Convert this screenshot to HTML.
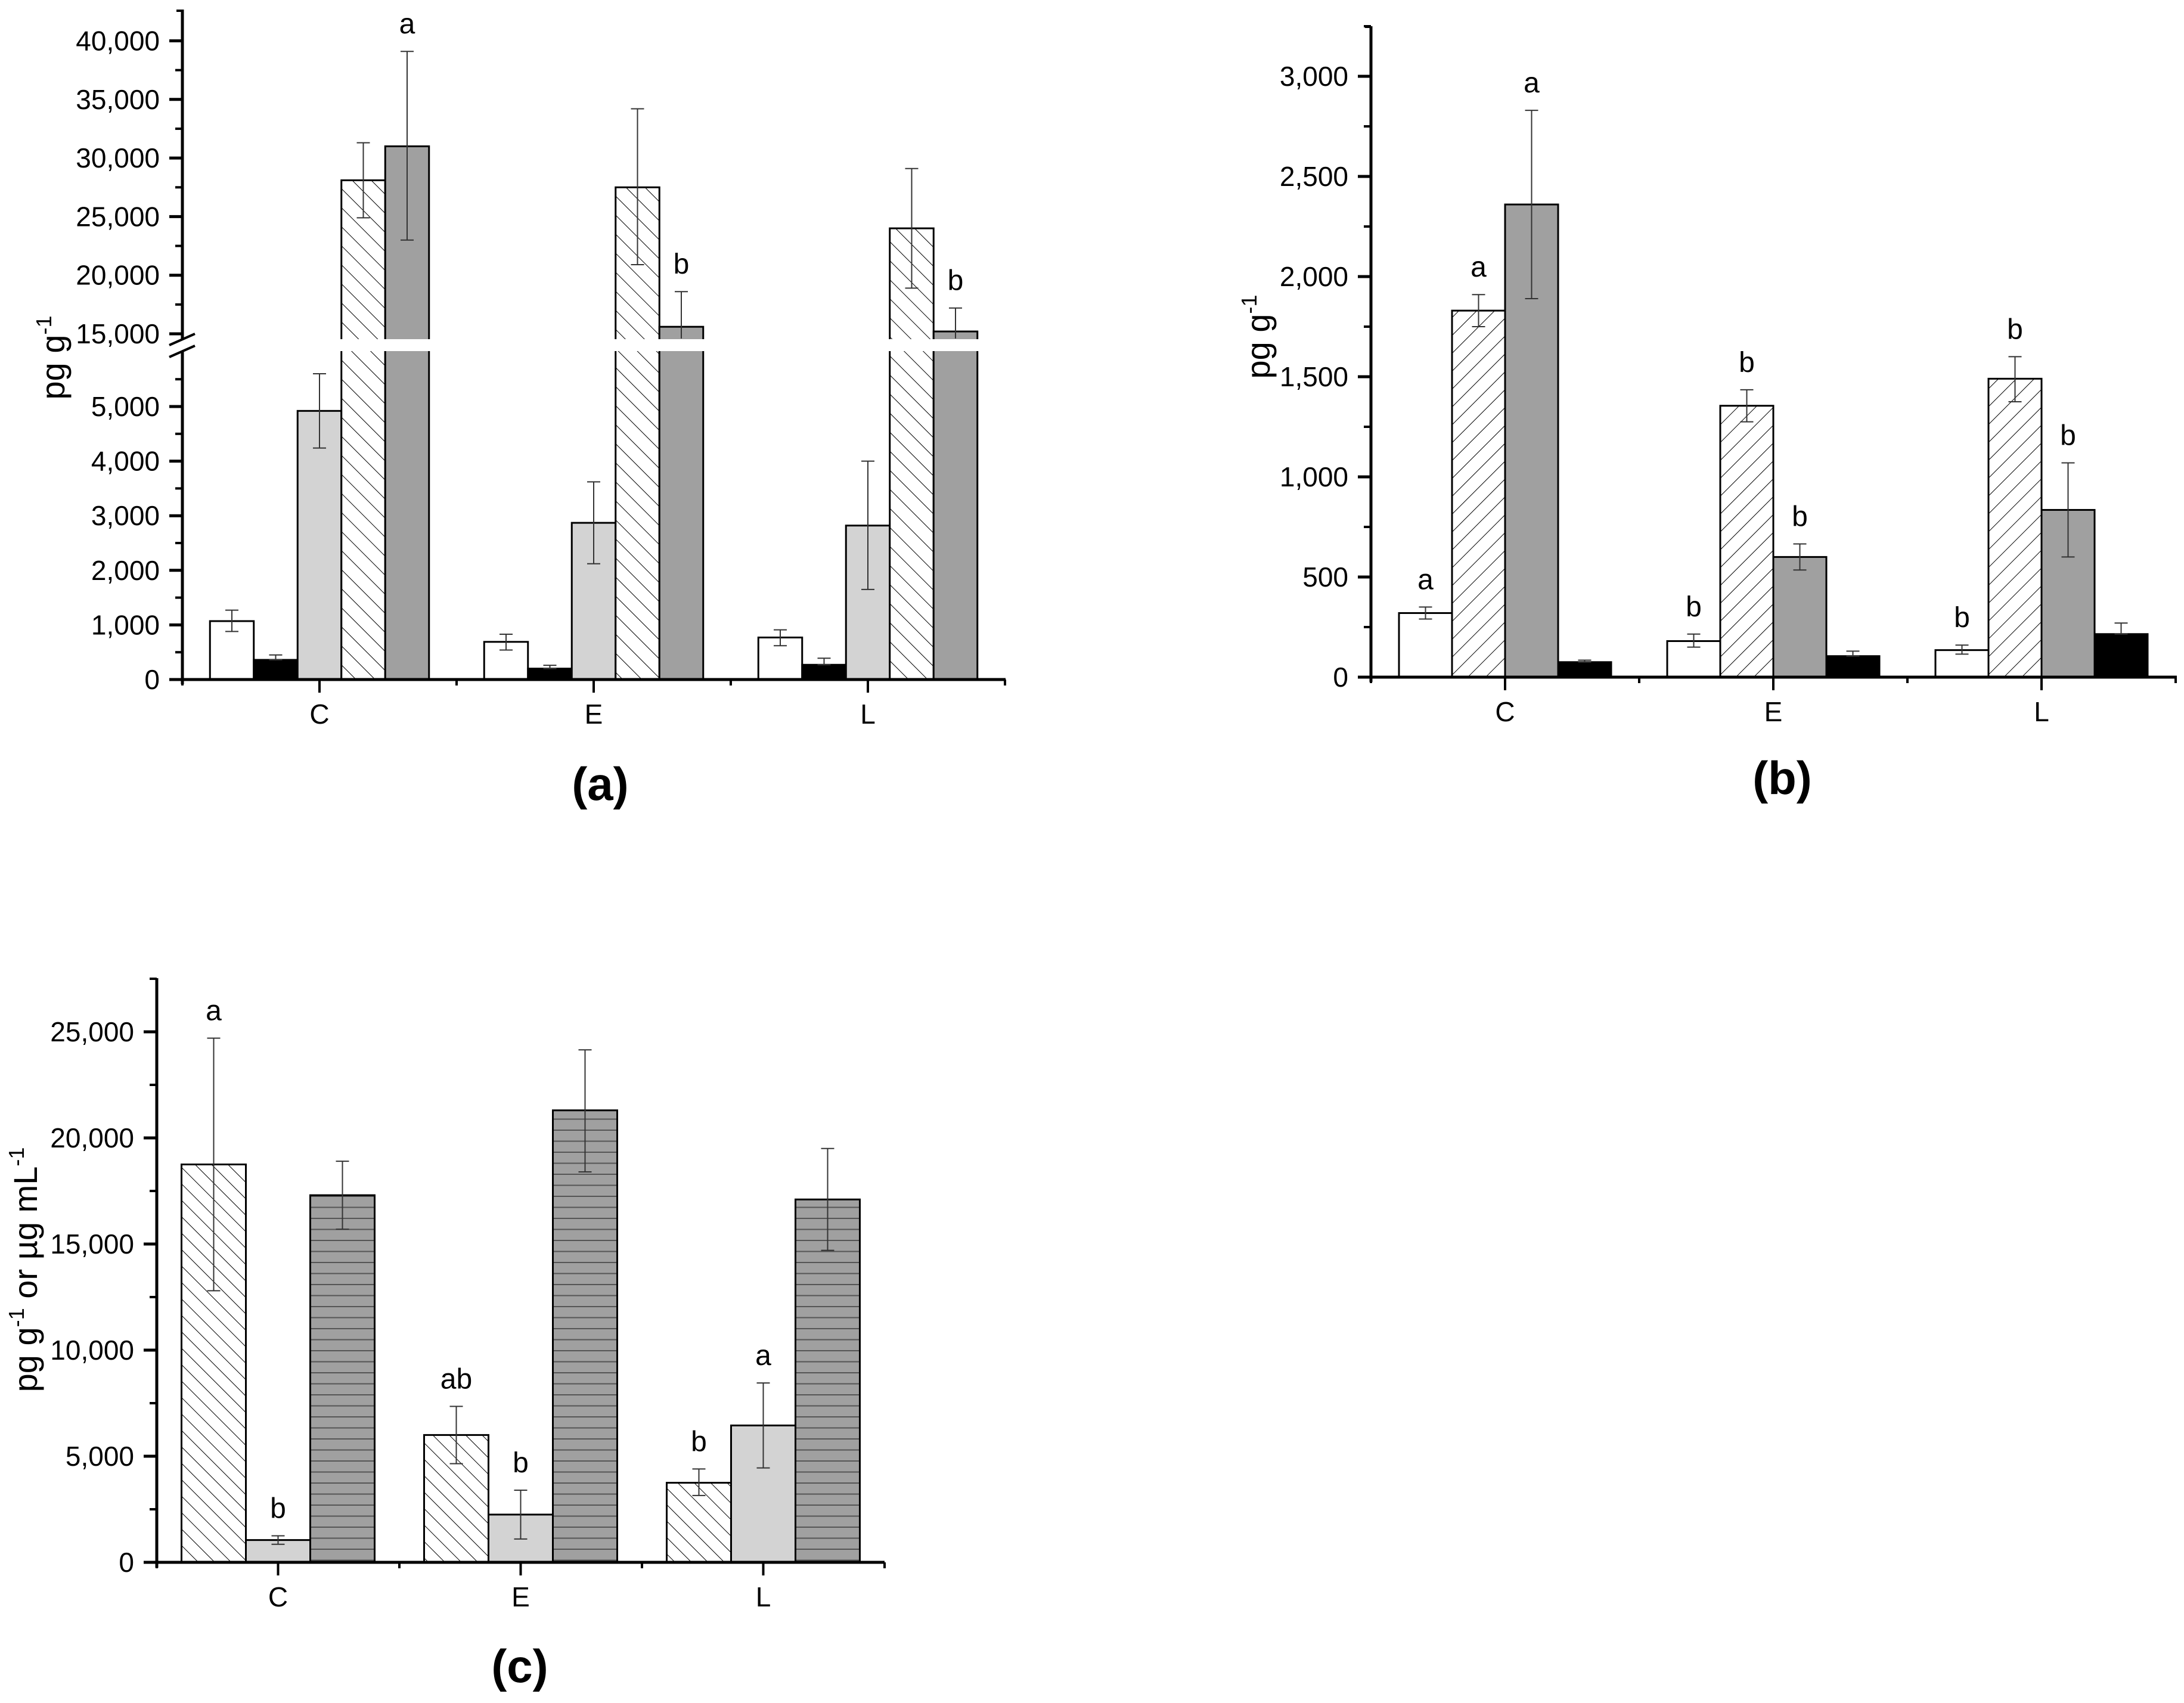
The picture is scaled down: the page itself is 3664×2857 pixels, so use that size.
<!DOCTYPE html>
<html><head><meta charset="utf-8">
<style>
html,body{margin:0;padding:0;background:#fff;}
svg{display:block;font-family:"Liberation Sans",Arial,sans-serif;}
</style></head>
<body>
<svg id="fig" width="3664" height="2857" viewBox="0 0 3664 2857" xmlns="http://www.w3.org/2000/svg">
<defs>
<pattern id="hatchBack" patternUnits="userSpaceOnUse" width="22.6" height="22.6" patternTransform="rotate(-45)">
<rect width="22.6" height="22.6" fill="#fff"/><line x1="0" y1="0" x2="0" y2="22.6" stroke="#000" stroke-width="2"/></pattern>
<pattern id="hatchFwd" patternUnits="userSpaceOnUse" width="21.2" height="21.2" patternTransform="rotate(45)">
<rect width="21.2" height="21.2" fill="#fff"/><line x1="0" y1="0" x2="0" y2="21.2" stroke="#000" stroke-width="2"/></pattern>
<pattern id="hatchBackC" patternUnits="userSpaceOnUse" width="19.5" height="19.5" patternTransform="rotate(-45)">
<rect width="19.5" height="19.5" fill="#fff"/><line x1="0" y1="0" x2="0" y2="19.5" stroke="#000" stroke-width="2"/></pattern>
<pattern id="hlines" patternUnits="userSpaceOnUse" width="20" height="18.5">
<rect width="20" height="18.5" fill="#a0a0a0"/><line x1="0" y1="9" x2="20" y2="9" stroke="#555" stroke-width="2"/></pattern>
</defs>
<g id="pa"></g>
<g id="pb"></g>
<g id="pc"></g>
</svg>
<script>
// ---------- data ----------
const categories = ["C", "E", "L"];
// panel (a): series white, black, lightgray, hatch, darkgray
const aWhite = [1070, 690, 770];
const aWhiteLo = [880, 540, 620];
const aWhiteHi = [1270, 830, 910];
const aBlack = [360, 200, 270];
const aBlackLo = [360, 200, 270];
const aBlackHi = [450, 260, 390];
const aLight = [4920, 2870, 2820];
const aLightLo = [4240, 2120, 1650];
const aLightHi = [5600, 3620, 4000];
const aHatch = [28100, 27500, 24000];
const aHatchLo = [24900, 20900, 18900];
const aHatchHi = [31300, 34200, 29100];
const aDark = [31000, 15600, 15200];
const aDarkLo = [23000, 12600, 13200];
const aDarkHi = [39100, 18600, 17200];
const aDarkLetters = ["a", "b", "b"];
const aLowTicks = [0, 1000, 2000, 3000, 4000, 5000];
const aHighTicks = [15000, 20000, 25000, 30000, 35000, 40000];
// panel (b): white, forward-hatch, darkgray, black
const bWhite = [320, 180, 135];
const bWhiteLo = [290, 150, 115];
const bWhiteHi = [350, 215, 160];
const bHatch = [1830, 1355, 1490];
const bHatchLo = [1750, 1275, 1375];
const bHatchHi = [1910, 1435, 1600];
const bDark = [2360, 600, 835];
const bDarkLo = [1890, 535, 600];
const bDarkHi = [2830, 665, 1070];
const bBlack = [75, 105, 215];
const bBlackLo = [75, 105, 215];
const bBlackHi = [85, 130, 270];
const bWhiteLetters = ["a", "b", "b"];
const bHatchLetters = ["a", "b", "b"];
const bDarkLetters = ["a", "b", "b"];
const bTicks = [0, 500, 1000, 1500, 2000, 2500, 3000];
// panel (c): back-hatch, lightgray, hlines
const cHatch = [18750, 6000, 3750];
const cHatchLo = [12800, 4650, 3150];
const cHatchHi = [24700, 7350, 4400];
const cLight = [1050, 2250, 6450];
const cLightLo = [850, 1100, 4450];
const cLightHi = [1250, 3400, 8450];
const cLines = [17300, 21300, 17100];
const cLinesLo = [15700, 18400, 14700];
const cLinesHi = [18900, 24150, 19500];
const cHatchLetters = ["a", "ab", "b"];
const cLightLetters = ["b", "b", "a"];
const cTicks = [0, 5000, 10000, 15000, 20000, 25000];

// ---------- helpers ----------
const NS = "http://www.w3.org/2000/svg";
function el(parent, tag, attrs, text) {
  const e = document.createElementNS(NS, tag);
  for (const k in attrs) e.setAttribute(k, attrs[k]);
  if (text !== undefined) e.textContent = text;
  parent.appendChild(e);
  return e;
}
function fmt(v) { return v.toLocaleString("en-US"); }

// ---------- scales ----------
function yA(v) { return v <= 6000 ? 1140 - v * 0.0916 : 560 - (v - 15000) * 0.01966; }
function yB(v) { return 1136 - v * 0.336; }
function yC(v) { return 2621 - v * 0.0356; }

function drawBar(g, x, w, v, fill, y, name) {
  const r = el(g, "rect", {x: x, y: y(v), width: w, height: y(0) - y(v), fill: fill, stroke: "#000", "stroke-width": 3});
  
  
}
function drawErr(g, cx, lo, hi, y, name, clipLo) {
  const yl = y(clipLo !== undefined ? Math.max(lo, clipLo) : lo), yh = y(hi);
  const eg = el(g, "g", {stroke: "#333", "stroke-width": 2});
  
  
  el(eg, "line", {x1: cx, y1: yl, x2: cx, y2: yh});
  el(eg, "line", {x1: cx - 11, y1: yh, x2: cx + 11, y2: yh});
  if (clipLo === undefined || lo >= clipLo) el(eg, "line", {x1: cx - 11, y1: yl, x2: cx + 11, y2: yl});
}
function drawLetter(g, cx, yTop, txt, name) {
  const t = el(g, "text", {x: cx, y: yTop - 30, "font-size": 48, "text-anchor": "middle"}, txt);
  
  
}
function yTitle(g, x, y, parts, name) {
  const t = el(g, "text", {transform: `translate(${x},${y}) rotate(-90)`, "font-size": 56, "text-anchor": "middle"});
  
  
  parts.forEach(p => {
    const s = el(t, "tspan", p.sup ? {"font-size": 36, dy: -22} : (p.down ? {"font-size": 56, dy: 22} : {}), p.t);
  });
}
function panelTitle(g, x, y, txt, name) {
  const t = el(g, "text", {x: x, y: y, "font-size": 78, "font-weight": "bold", "text-anchor": "middle"}, txt);
  
  
}
function catLabels(g, xs, y, pfx) {
  categories.forEach((c, i) => {
    const t = el(g, "text", {x: xs[i], y: y, "font-size": 46, "text-anchor": "middle"}, c);
    
    
  });
}
function yTicks(g, ax, ticks, y, minorStep, vmin, vmax, pfx) {
  ticks.forEach(v => {
    el(g, "line", {x1: ax - 22, y1: y(v), x2: ax, y2: y(v), stroke: "#000", "stroke-width": 5});
    const t = el(g, "text", {x: ax - 38, y: y(v) + 16, "font-size": 46, "text-anchor": "end"}, fmt(v));
    
    
  });
  for (let v = vmin + minorStep; v <= vmax; v += 2 * minorStep) {
    el(g, "line", {x1: ax - 12, y1: y(v), x2: ax, y2: y(v), stroke: "#000", "stroke-width": 4});
  }
}

// ---------- panel (a) ----------
(function () {
  const g = document.getElementById("pa");
  const ax = 306, xEnd = 1687, span = 460, bw = 73.5;
  const cx = categories.map((c, i) => ax + span * (i + 0.5));
  const series = [
    [aWhite, aWhiteLo, aWhiteHi, "#fff", "white"],
    [aBlack, aBlackLo, aBlackHi, "#000", "black"],
    [aLight, aLightLo, aLightHi, "#d3d3d3", "light"],
    [aHatch, aHatchLo, aHatchHi, "url(#hatchBack)", "hatch"],
    [aDark, aDarkLo, aDarkHi, "#a0a0a0", "dark"]];
  const bars = el(g, "g", {});
  
  
  categories.forEach((c, i) => {
    series.forEach((s, j) => {
      const x = cx[i] - 2.5 * bw + j * bw;
      drawBar(bars, x, bw, s[0][i], s[3], yA, 'bar-a-' + s[4] + '-' + c.toLowerCase());
    });
  });
  // break gap
  el(g, "rect", {x: 290, y: 569, width: 1410, height: 20, fill: "#fff"});
  categories.forEach((c, i) => {
    series.forEach((s, j) => {
      const x = cx[i] - 2.5 * bw + j * bw + bw / 2;
      const big = s[0][i] > 6000;
      drawErr(bars, x, s[1][i], s[2][i], yA, 'error-a-' + s[4] + '-' + c.toLowerCase(), big ? 14600 : undefined);
    });
    drawLetter(g, cx[i] - 2.5 * bw + 4.5 * bw, yA(aDarkHi[i]), aDarkLetters[i], 'letter-a-dark-' + c.toLowerCase());
  });
  // axes
  const axg = el(g, "g", {});
  
  
  el(axg, "line", {x1: ax, y1: 16, x2: ax, y2: 569, stroke: "#000", "stroke-width": 5});
  el(axg, "line", {x1: ax, y1: 590, x2: ax, y2: 1148, stroke: "#000", "stroke-width": 5});
  el(axg, "line", {x1: ax - 10, y1: 18, x2: ax, y2: 18, stroke: "#000", "stroke-width": 4});
  el(axg, "line", {x1: 284, y1: 579, x2: 327, y2: 560, stroke: "#000", "stroke-width": 4});
  el(axg, "line", {x1: 284, y1: 599, x2: 327, y2: 580, stroke: "#000", "stroke-width": 4});
  el(axg, "line", {x1: ax - 22, y1: 1140, x2: xEnd, y2: 1140, stroke: "#000", "stroke-width": 5});
  yTicks(axg, ax, aLowTicks, yA, 500, 0, 5500, 'a');
  yTicks(axg, ax, aHighTicks, yA, 2500, 15000, 40000, 'a');
  for (let i = 0; i <= 3; i++) el(axg, "line", {x1: ax + span * i, y1: 1140, x2: ax + span * i, y2: 1150, stroke: "#000", "stroke-width": 4});
  cx.forEach(x => el(axg, "line", {x1: x, y1: 1140, x2: x, y2: 1162, stroke: "#000", "stroke-width": 4}));
  catLabels(g, cx, 1214, 'a');
  yTitle(g, 108, 600, [{t: "pg g"}, {t: "-1", sup: true}], 'y-axis-title-a');
  panelTitle(g, 1007, 1342, "(a)", 'panel-a-label');
})();

// ---------- panel (b) ----------
(function () {
  const g = document.getElementById("pb");
  const ax = 2300, xEnd = 3652, span = 450, bw = 89;
  const cx = categories.map((c, i) => ax + span * (i + 0.5));
  const series = [
    [bWhite, bWhiteLo, bWhiteHi, "#fff", "white", bWhiteLetters],
    [bHatch, bHatchLo, bHatchHi, "url(#hatchFwd)", "hatch", bHatchLetters],
    [bDark, bDarkLo, bDarkHi, "#a0a0a0", "dark", bDarkLetters],
    [bBlack, bBlackLo, bBlackHi, "#000", "black", null]];
  const bars = el(g, "g", {});
  
  
  categories.forEach((c, i) => {
    series.forEach((s, j) => {
      const x = cx[i] - 2 * bw + j * bw;
      drawBar(bars, x, bw, s[0][i], s[3], yB, 'bar-b-' + s[4] + '-' + c.toLowerCase());
      drawErr(bars, x + bw / 2, s[1][i], s[2][i], yB, 'error-b-' + s[4] + '-' + c.toLowerCase());
      if (s[5]) drawLetter(g, x + bw / 2, yB(s[2][i]), s[5][i], 'letter-b-' + s[4] + '-' + c.toLowerCase());
    });
  });
  const axg = el(g, "g", {});
  
  
  el(axg, "line", {x1: ax, y1: 44, x2: ax, y2: 1144, stroke: "#000", "stroke-width": 5});
  el(axg, "line", {x1: ax - 10, y1: 45, x2: ax, y2: 45, stroke: "#000", "stroke-width": 4});
  el(axg, "line", {x1: ax - 22, y1: 1136, x2: xEnd, y2: 1136, stroke: "#000", "stroke-width": 5});
  yTicks(axg, ax, bTicks, yB, 250, 0, 3250, 'b');
  for (let i = 0; i <= 3; i++) el(axg, "line", {x1: ax + span * i, y1: 1136, x2: ax + span * i, y2: 1146, stroke: "#000", "stroke-width": 4});
  cx.forEach(x => el(axg, "line", {x1: x, y1: 1136, x2: x, y2: 1158, stroke: "#000", "stroke-width": 4}));
  catLabels(g, cx, 1210, 'b');
  yTitle(g, 2130, 565, [{t: "pg g"}, {t: "-1", sup: true}], 'y-axis-title-b');
  panelTitle(g, 2990, 1332, "(b)", 'panel-b-label');
})();

// ---------- panel (c) ----------
(function () {
  const g = document.getElementById("pc");
  const ax = 263, xEnd = 1484, span = 407, bw = 108;
  const cx = categories.map((c, i) => ax + span * (i + 0.5));
  const series = [
    [cHatch, cHatchLo, cHatchHi, "url(#hatchBackC)", "hatch", cHatchLetters],
    [cLight, cLightLo, cLightHi, "#d3d3d3", "light", cLightLetters],
    [cLines, cLinesLo, cLinesHi, "url(#hlines)", "lined", null]];
  const bars = el(g, "g", {});
  
  
  categories.forEach((c, i) => {
    series.forEach((s, j) => {
      const x = cx[i] - 1.5 * bw + j * bw;
      drawBar(bars, x, bw, s[0][i], s[3], yC, 'bar-c-' + s[4] + '-' + c.toLowerCase());
      drawErr(bars, x + bw / 2, s[1][i], s[2][i], yC, 'error-c-' + s[4] + '-' + c.toLowerCase());
      if (s[5]) drawLetter(g, x + bw / 2, yC(s[2][i]), s[5][i], 'letter-c-' + s[4] + '-' + c.toLowerCase());
    });
  });
  const axg = el(g, "g", {});
  
  
  el(axg, "line", {x1: ax, y1: 1641, x2: ax, y2: 2630, stroke: "#000", "stroke-width": 5});
  el(axg, "line", {x1: ax - 10, y1: 1642, x2: ax, y2: 1642, stroke: "#000", "stroke-width": 4});
  el(axg, "line", {x1: ax - 22, y1: 2621, x2: xEnd, y2: 2621, stroke: "#000", "stroke-width": 5});
  yTicks(axg, ax, cTicks, yC, 2500, 0, 27500, 'c');
  for (let i = 0; i <= 3; i++) el(axg, "line", {x1: ax + span * i, y1: 2621, x2: ax + span * i, y2: 2631, stroke: "#000", "stroke-width": 4});
  cx.forEach(x => el(axg, "line", {x1: x, y1: 2621, x2: x, y2: 2643, stroke: "#000", "stroke-width": 4}));
  catLabels(g, cx, 2695, 'c');
  yTitle(g, 62, 2130, [{t: "pg g"}, {t: "-1", sup: true}, {t: " or µg mL", down: true}, {t: "-1", sup: true}], 'y-axis-title-c');
  panelTitle(g, 872, 2822, "(c)", 'panel-c-label');
})();
</script>
</body></html>
